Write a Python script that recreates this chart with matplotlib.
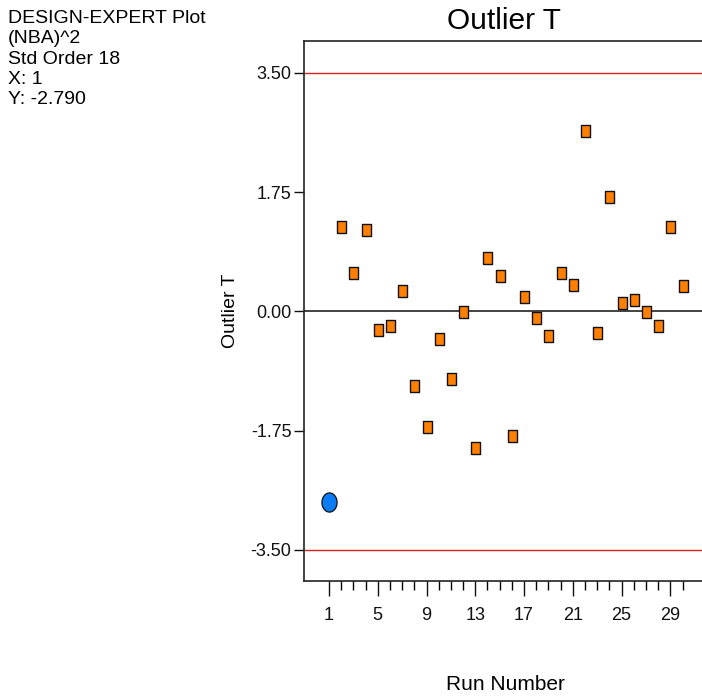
import matplotlib
matplotlib.use("Agg")
import matplotlib.pyplot as plt
import numpy as np

plt.rcParams["font.family"] = ["Liberation Sans", "DejaVu Sans"]

# run order and externally studentized residuals (outlier t)
runs = list(range(1, 31))
outlier_t = [-2.790, 1.24, 0.56, 1.19, -0.27, -0.21, 0.30, -1.10, -1.70, -0.41,
             -0.99, -0.01, -2.01, 0.79, 0.52, -1.83, 0.21, -0.10, -0.36, 0.56,
             0.39, 2.65, -0.31, 1.68, 0.12, 0.17, -0.01, -0.21, 1.24, 0.37]
selected_run = 1
limit = 3.50

yticks = [-3.50, -1.75, 0.00, 1.75, 3.50]
xticks = [1, 5, 9, 13, 17, 21, 25, 29]

info_lines = ["DESIGN-EXPERT Plot", "(NBA)^2", "Std Order 18", "X: 1", "Y: -2.790"]

W, H = 702, 698
fig = plt.figure(figsize=(W / 100, H / 100), dpi=100)
ax = fig.add_axes([304 / W, (H - 581) / H, (712 - 304) / W, (581 - 40.7) / H])

# tall rectangle and tall ellipse marker shapes
rect = np.array([(-0.72, -1), (0.72, -1), (0.72, 1), (-0.72, 1), (-0.72, -1)])
t = np.linspace(0, 2 * np.pi, 60)
oval = np.column_stack([0.79 * np.cos(t), np.sin(t)])

x = np.array(runs)
y = np.array(outlier_t)
sel = x == selected_run

ax.axhline(limit, color="#d42020", lw=1.0, zorder=1)
ax.axhline(-limit, color="#d42020", lw=1.0, zorder=1)
ax.axhline(0, color="#222222", lw=1.2, zorder=1)

ax.plot(x[~sel], y[~sel], ls="none", marker=rect, ms=9.0, mfc="#ff8000",
        mec="#111111", mew=1.0, zorder=3)
ax.plot(x[sel], y[sel], ls="none", marker=oval, ms=13.8, mfc="#0a7cf5",
        mec="#111111", mew=0.9, zorder=3)

ax.set_xlim(-1.05, 32.42)
ax.set_ylim(-3.955, 3.974)

ax.set_yticks(yticks)
ax.set_yticklabels([f"{v:.2f}" for v in yticks])
ax.set_xticks(xticks)
ax.set_xticks(runs, minor=True)

ax.tick_params(axis="y", direction="out", length=7.5, width=1, pad=1.5,
               labelsize=13, colors="#111111")
ax.tick_params(axis="x", which="major", direction="out", length=11, width=1,
               pad=8, labelsize=13, colors="#111111")
ax.tick_params(axis="x", which="minor", direction="out", length=6.5, width=1)

for side in ["top", "left", "bottom"]:
    ax.spines[side].set_linewidth(1.2)
    ax.spines[side].set_color("#222222")
ax.spines["right"].set_visible(False)

ax.set_ylabel("Outlier T", fontsize=14)
ax.yaxis.set_label_coords((239 - 304) / (712 - 304), 0.5)
fig.text(505 / W, 1 - 685 / H, "Run Number", ha="center", va="center", fontsize=15)
fig.text(504 / W, 1 - 29 / H, "Outlier T", ha="center", va="baseline", fontsize=21.5)

for i, line in enumerate(info_lines):
    fig.text(8 / W, 1 - (23 + 20.3 * i) / H, line, ha="left", va="baseline", fontsize=14)

fig.savefig("out.png", dpi=100)
